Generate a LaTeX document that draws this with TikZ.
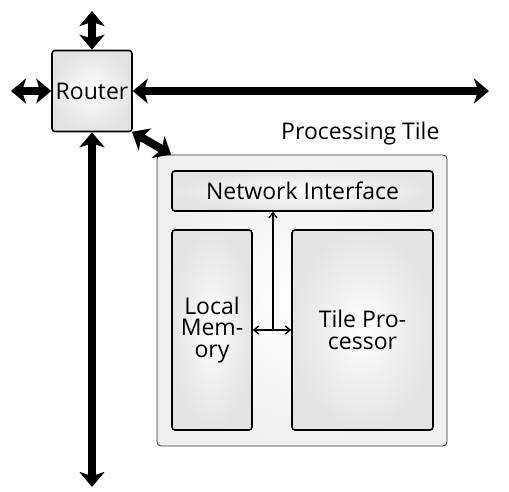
\documentclass[tikz,border=0pt]{standalone}
\usepackage{fontspec}
\setmainfont{Open Sans}
\usetikzlibrary{arrows.meta,shadings}
\begin{document}
\begin{tikzpicture}[x=1pt,y=-1pt,
  bigarrow/.style={line width=8pt,{Stealth[length=15pt,width=25pt,inset=4pt]}-{Stealth[length=15pt,width=25pt,inset=4pt]}},
  thinarrow/.style={line width=1.3pt,-{Straight Barb[length=5pt,width=8pt]}},
  box/.style={draw=black,line width=1.6pt,rounded corners=3pt,inner color=white,outer color=gray!22,inner sep=0pt},
  tilebox/.style={draw=black!80,line width=0.8pt,rounded corners=4pt,inner color=white,outer color=gray!12,inner sep=0pt},
  lbl/.style={font=\fontsize{23}{21.5}\selectfont,align=center}]
\useasboundingbox (0,0) rectangle (509,491);
\node[tilebox,minimum width=290pt,minimum height=291pt] (tile) at (302,300.5) {};
\node[lbl,anchor=south east] (tilelbl) at (443,149) {Processing Tile};
\node[box,lbl,minimum width=80pt,minimum height=81pt] (router) at (92,91) {Router};
\node[box,lbl,minimum width=261pt,minimum height=40pt] (ni) at (302.5,191) {Network Interface};
\node[box,lbl,minimum width=80pt,minimum height=200pt] (mem) at (212,330) {Local\\Mem-\\ory};
\node[box,lbl,minimum width=141pt,minimum height=200pt] (proc) at (362.5,330) {Tile Pro-\\cessor};
\coordinate (top) at (92,11);
\coordinate (left) at (11,91);
\coordinate (right) at (489,91);
\coordinate (bottom) at (92,487);
\draw[bigarrow] (top) -- (router.north);
\draw[bigarrow] (left) -- (router.west);
\draw[bigarrow] (router.east) -- (right);
\draw[bigarrow] (router.south) -- (bottom);
\draw[bigarrow,shorten <=-1pt] (router.south east) -- (tile.north east -| ni.north west);
\coordinate (junc) at (273,330);
\draw[thinarrow] (junc) -- (junc |- ni.south);
\draw[thinarrow] (junc) -- (mem.east);
\draw[thinarrow] (junc) -- (proc.west);
\end{tikzpicture}
\end{document}
